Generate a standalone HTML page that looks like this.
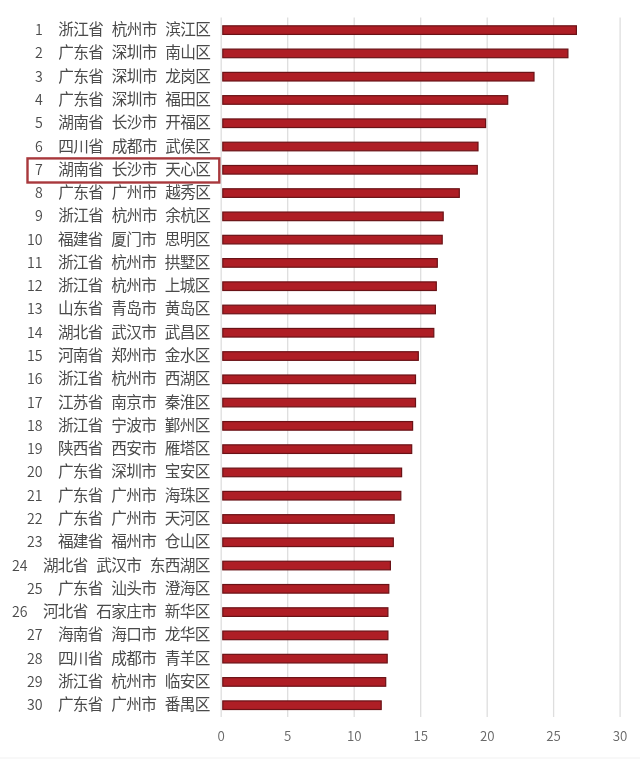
<!DOCTYPE html>
<html lang="zh-CN"><head><meta charset="utf-8"><title>chart</title>
<style>
html,body{margin:0;padding:0;background:#fff}
body{width:640px;height:759px;position:relative;overflow:hidden;font-family:"Noto Sans CJK SC","Liberation Sans",sans-serif;color:#4a4a4a}
svg{position:absolute;left:0;top:0}
.g line{stroke:#dedede;stroke-width:1.3}
.b rect{fill:#ae1e25;stroke:#6a1216;stroke-width:1.2}
.l{position:absolute;right:430.05px;top:0;height:22px;line-height:22px;white-space:nowrap;font-size:15.65px;font-weight:400;display:flex;justify-content:flex-end}
.l b{font-weight:350;font-size:14.2px;margin-right:15.6px;letter-spacing:-0.15px;position:relative;top:-0.05px}
.l span{margin-left:8.5px;letter-spacing:-0.65px}
.l span:first-of-type{margin-left:0}
.x{position:absolute;top:726.2px;width:40px;margin-left:-20px;text-align:center;font-size:13.3px;line-height:20px;font-weight:350;color:#686868}
.ft{position:absolute;left:0;top:756.5px;width:640px;height:2.5px;background:#f8f8f8}
</style></head><body>
<svg width="640" height="759" viewBox="0 0 640 759">
<g class="g">
<line x1="221.2" y1="17.4" x2="221.2" y2="717"/><line x1="287.7" y1="17.4" x2="287.7" y2="717"/><line x1="354.2" y1="17.4" x2="354.2" y2="717"/><line x1="420.7" y1="17.4" x2="420.7" y2="717"/><line x1="487.2" y1="17.4" x2="487.2" y2="717"/><line x1="553.6" y1="17.4" x2="553.6" y2="717"/><line x1="620.1" y1="17.4" x2="620.1" y2="717"/>
</g>
<g class="b">
<rect x="222.8" y="25.82" width="353.6" height="8.6"/>
<rect x="222.8" y="49.10" width="345.1" height="8.6"/>
<rect x="222.8" y="72.38" width="311.2" height="8.6"/>
<rect x="222.8" y="95.66" width="284.9" height="8.6"/>
<rect x="222.8" y="118.94" width="262.8" height="8.6"/>
<rect x="222.8" y="142.21" width="255.2" height="8.6"/>
<rect x="222.8" y="165.49" width="254.5" height="8.6"/>
<rect x="222.8" y="188.77" width="236.5" height="8.6"/>
<rect x="222.8" y="212.05" width="220.4" height="8.6"/>
<rect x="222.8" y="235.33" width="219.4" height="8.6"/>
<rect x="222.8" y="258.61" width="214.5" height="8.6"/>
<rect x="222.8" y="281.89" width="213.5" height="8.6"/>
<rect x="222.8" y="305.17" width="212.6" height="8.6"/>
<rect x="222.8" y="328.45" width="211.0" height="8.6"/>
<rect x="222.8" y="351.73" width="195.5" height="8.6"/>
<rect x="222.8" y="375.00" width="192.7" height="8.6"/>
<rect x="222.8" y="398.28" width="192.7" height="8.6"/>
<rect x="222.8" y="421.56" width="189.8" height="8.6"/>
<rect x="222.8" y="444.84" width="188.9" height="8.6"/>
<rect x="222.8" y="468.12" width="178.8" height="8.6"/>
<rect x="222.8" y="491.40" width="178.0" height="8.6"/>
<rect x="222.8" y="514.68" width="171.4" height="8.6"/>
<rect x="222.8" y="537.96" width="170.5" height="8.6"/>
<rect x="222.8" y="561.24" width="167.6" height="8.6"/>
<rect x="222.8" y="584.52" width="166.0" height="8.6"/>
<rect x="222.8" y="607.80" width="165.1" height="8.6"/>
<rect x="222.8" y="631.07" width="165.1" height="8.6"/>
<rect x="222.8" y="654.35" width="164.4" height="8.6"/>
<rect x="222.8" y="677.63" width="162.9" height="8.6"/>
<rect x="222.8" y="700.91" width="158.4" height="8.6"/>
</g>
<rect x="27.5" y="158.4" width="191.8" height="24.1" fill="none" stroke="#a8383c" stroke-width="2.4"/>
</svg>
<div class="l" style="transform:translateY(18.12px) skewX(.01deg)"><b>1</b><span>浙江省</span><span>杭州市</span><span>滨江区</span></div>
<div class="l" style="transform:translateY(41.40px) skewX(.01deg)"><b>2</b><span>广东省</span><span>深圳市</span><span>南山区</span></div>
<div class="l" style="transform:translateY(64.68px) skewX(.01deg)"><b>3</b><span>广东省</span><span>深圳市</span><span>龙岗区</span></div>
<div class="l" style="transform:translateY(87.96px) skewX(.01deg)"><b>4</b><span>广东省</span><span>深圳市</span><span>福田区</span></div>
<div class="l" style="transform:translateY(111.24px) skewX(.01deg)"><b>5</b><span>湖南省</span><span>长沙市</span><span>开福区</span></div>
<div class="l" style="transform:translateY(134.51px) skewX(.01deg)"><b>6</b><span>四川省</span><span>成都市</span><span>武侯区</span></div>
<div class="l" style="transform:translateY(157.79px) skewX(.01deg)"><b>7</b><span>湖南省</span><span>长沙市</span><span>天心区</span></div>
<div class="l" style="transform:translateY(181.07px) skewX(.01deg)"><b>8</b><span>广东省</span><span>广州市</span><span>越秀区</span></div>
<div class="l" style="transform:translateY(204.35px) skewX(.01deg)"><b>9</b><span>浙江省</span><span>杭州市</span><span>余杭区</span></div>
<div class="l" style="transform:translateY(227.63px) skewX(.01deg)"><b>10</b><span>福建省</span><span>厦门市</span><span>思明区</span></div>
<div class="l" style="transform:translateY(250.91px) skewX(.01deg)"><b>11</b><span>浙江省</span><span>杭州市</span><span>拱墅区</span></div>
<div class="l" style="transform:translateY(274.19px) skewX(.01deg)"><b>12</b><span>浙江省</span><span>杭州市</span><span>上城区</span></div>
<div class="l" style="transform:translateY(297.47px) skewX(.01deg)"><b>13</b><span>山东省</span><span>青岛市</span><span>黄岛区</span></div>
<div class="l" style="transform:translateY(320.75px) skewX(.01deg)"><b>14</b><span>湖北省</span><span>武汉市</span><span>武昌区</span></div>
<div class="l" style="transform:translateY(344.03px) skewX(.01deg)"><b>15</b><span>河南省</span><span>郑州市</span><span>金水区</span></div>
<div class="l" style="transform:translateY(367.31px) skewX(.01deg)"><b>16</b><span>浙江省</span><span>杭州市</span><span>西湖区</span></div>
<div class="l" style="transform:translateY(390.58px) skewX(.01deg)"><b>17</b><span>江苏省</span><span>南京市</span><span>秦淮区</span></div>
<div class="l" style="transform:translateY(413.86px) skewX(.01deg)"><b>18</b><span>浙江省</span><span>宁波市</span><span>鄞州区</span></div>
<div class="l" style="transform:translateY(437.14px) skewX(.01deg)"><b>19</b><span>陕西省</span><span>西安市</span><span>雁塔区</span></div>
<div class="l" style="transform:translateY(460.42px) skewX(.01deg)"><b>20</b><span>广东省</span><span>深圳市</span><span>宝安区</span></div>
<div class="l" style="transform:translateY(483.70px) skewX(.01deg)"><b>21</b><span>广东省</span><span>广州市</span><span>海珠区</span></div>
<div class="l" style="transform:translateY(506.98px) skewX(.01deg)"><b>22</b><span>广东省</span><span>广州市</span><span>天河区</span></div>
<div class="l" style="transform:translateY(530.26px) skewX(.01deg)"><b>23</b><span>福建省</span><span>福州市</span><span>仓山区</span></div>
<div class="l" style="transform:translateY(553.54px) skewX(.01deg)"><b>24</b><span>湖北省</span><span>武汉市</span><span>东西湖区</span></div>
<div class="l" style="transform:translateY(576.82px) skewX(.01deg)"><b>25</b><span>广东省</span><span>汕头市</span><span>澄海区</span></div>
<div class="l" style="transform:translateY(600.10px) skewX(.01deg)"><b>26</b><span>河北省</span><span>石家庄市</span><span>新华区</span></div>
<div class="l" style="transform:translateY(623.37px) skewX(.01deg)"><b>27</b><span>海南省</span><span>海口市</span><span>龙华区</span></div>
<div class="l" style="transform:translateY(646.65px) skewX(.01deg)"><b>28</b><span>四川省</span><span>成都市</span><span>青羊区</span></div>
<div class="l" style="transform:translateY(669.93px) skewX(.01deg)"><b>29</b><span>浙江省</span><span>杭州市</span><span>临安区</span></div>
<div class="l" style="transform:translateY(693.21px) skewX(.01deg)"><b>30</b><span>广东省</span><span>广州市</span><span>番禺区</span></div>
<div class="x" style="left:221.2px">0</div><div class="x" style="left:287.7px">5</div><div class="x" style="left:354.2px">10</div><div class="x" style="left:420.7px">15</div><div class="x" style="left:487.2px">20</div><div class="x" style="left:553.6px">25</div><div class="x" style="left:620.1px">30</div>
<div class="ft"></div>
</body></html>
